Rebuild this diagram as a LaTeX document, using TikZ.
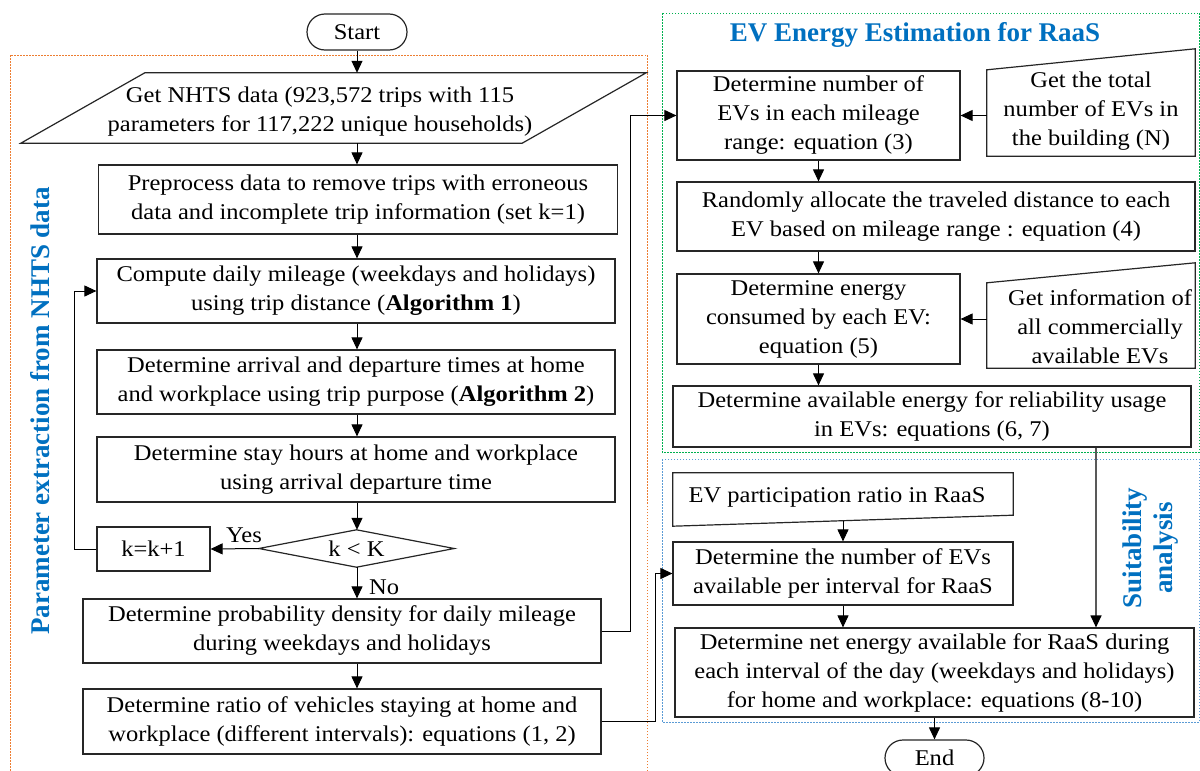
\documentclass[tikz,border=0pt]{standalone}
\usepackage{fontspec}
\setmainfont{Liberation Serif}[FakeStretch=1.09]
\newfontfamily\ttlfont{Liberation Serif}
\usetikzlibrary{arrows.meta,calc}
\definecolor{tblue}{RGB}{0,112,192}
\definecolor{forange}{RGB}{237,125,49}
\definecolor{fgreen}{RGB}{0,176,80}
\definecolor{fblue}{RGB}{91,155,213}
\newcommand\bodyfnt{\fontsize{22.5}{29}\selectfont}
\newcommand\ttlfnt{\ttlfont\bfseries\fontsize{27}{31}\selectfont}
\begin{document}
\begin{tikzpicture}[x=1pt,y=-1pt,
  box/.style={draw=black!85, line width=1.2pt, inner sep=0pt, align=center, font=\bodyfnt},
  shp/.style={inner sep=0pt},
  lbl/.style={inner sep=0pt, align=center, font=\bodyfnt},
  outl/.style={draw=black!85, line width=1.2pt},
  arr/.style={draw=black, line width=1pt, -{Triangle[length=12pt,width=11pt]}},
  garr/.style={draw=black!65, line width=1.2pt, -{Triangle[length=12pt,width=11pt,color=black]}},
  frame/.style={line width=1pt, dash pattern=on 1.5pt off 1.5pt},
  ttl/.style={inner sep=0pt, align=center, text=tblue, font=\ttlfnt}]
\useasboundingbox (0,0) rectangle (1200,771);
\fill[white] (0,0) rectangle (1200,771);

% frames
\draw[frame, draw=forange] (10,55) rectangle (647,780);
\draw[frame, draw=fgreen] (662,13) rectangle (1199,452);
\draw[frame, draw=fblue] (662,459) rectangle (1199,722);

% titles
\node[ttl] (t1) at (915,35) {EV Energy Estimation for RaaS};
\node[ttl, rotate=90] (t2) at (40,411) {Parameter extraction from NHTS data};
\node[ttl, rotate=90] (t3) at (1151,548) {Suitability\\analysis};

% left column
\node[box, rounded corners=18pt, minimum width=100pt, minimum height=36pt] (start) at (357,32) {Start};
\node[shp, minimum width=501pt, minimum height=70pt] (para) at (333.5,108) {};
\draw[outl] ([xshift=62pt]para.north west) -- ([xshift=62pt]para.north east)
  -- ([xshift=-62pt]para.south east) -- ([xshift=-62pt]para.south west) -- cycle;
\node[lbl] (paratxt) at (320,112) {Get NHTS data (923,572 trips with 115\\parameters for 117,222 unique households)};
\node[box, minimum width=519pt, minimum height=69pt] (prep) at (358,199.5) {Preprocess data to remove trips with erroneous\\data and incomplete trip information (set k=1)};
\node[box, minimum width=518pt, minimum height=64pt] (comp) at (356,291) {Compute daily mileage (weekdays and holidays)\\using trip distance (\textbf{Algorithm 1})};
\node[box, minimum width=518pt, minimum height=64pt] (arrv) at (356,382) {Determine arrival and departure times at home\\and workplace using trip purpose (\textbf{Algorithm 2})};
\node[box, minimum width=518pt, minimum height=65pt] (stay) at (356,469.5) {Determine stay hours at home and workplace\\using arrival departure time};
\node[shp, minimum width=195pt, minimum height=37pt] (dia) at (356.5,548.5) {};
\draw[outl] (dia.north) -- (dia.east) -- (dia.south) -- (dia.west) -- cycle;
\node[lbl] (diatxt) at (dia) {k < K};
\node[box, minimum width=113pt, minimum height=44pt] (kbox) at (153.5,549) {k=k+1};
\node[box, minimum width=518pt, minimum height=64pt] (prob) at (342,631) {Determine probability density for daily mileage\\during weekdays and holidays};
\node[box, minimum width=518pt, minimum height=65pt] (ratio) at (342,721.5) {Determine ratio of vehicles staying at home and\\workplace (different intervals): equations (1, 2)};
\coordinate (colx) at (357,0);

\draw[arr] (start.south) -- (start.south |- para.north);
\draw[arr] (para.south -| colx) -- (prep.north -| colx);
\draw[arr] (prep.south -| colx) -- (comp.north -| colx);
\draw[arr] (comp.south -| colx) -- (arrv.north -| colx);
\draw[arr] (arrv.south -| colx) -- (stay.north -| colx);
\draw[arr] (stay.south -| colx) -- (dia.north -| colx);
\draw[arr] (dia.west) -- (kbox.east);
\draw[arr] (kbox.west) -- ++(-22,0) |- (comp.west);
\draw[arr] (dia.south -| colx) -- (prob.north -| colx);
\draw[arr] (prob.south -| colx) -- (ratio.north -| colx);
\node[lbl, anchor=south] (yes) at (244,543) {Yes};
\node[lbl, anchor=west] (no) at (369,587) {No};

% right column: EV energy estimation
\node[box, minimum width=283pt, minimum height=89pt] (ev1) at (818.5,115.5) {Determine number of\\EVs in each mileage\\range: equation (3)};
\node[shp, minimum width=208pt, minimum height=107pt] (tot) at (1091,102.5) {};
\draw[outl] (tot.south west) -- ([yshift=-21pt]tot.north west) -- (tot.north east) -- (tot.south east) -- cycle;
\node[lbl] (tottxt) at (1091,111) {Get the total\\number of EVs in\\the building (N)};
\node[box, minimum width=518pt, minimum height=69pt] (rand) at (936,216.5) {Randomly allocate the traveled distance to each\\EV based on mileage range : equation (4)};
\node[box, minimum width=283pt, minimum height=90pt] (energy) at (818.5,319) {Determine energy\\consumed by each EV:\\equation (5)};
\node[shp, minimum width=208pt, minimum height=105pt] (info) at (1091,315.5) {};
\draw[outl] (info.south west) -- ([yshift=-20pt]info.north west) -- (info.north east) -- (info.south east) -- cycle;
\node[lbl] (infotxt) at (1100,327) {Get information of\\all commercially\\available EVs};
\node[box, minimum width=518pt, minimum height=61pt] (avail) at (932,416.5) {Determine available energy for reliability usage\\in EVs: equations (6, 7)};

\draw[arr] (ev1.east -| tot.west) -- (ev1.east);
\draw[arr] (ev1.south) -- (ev1.south |- rand.north);
\draw[arr] (rand.south -| ev1) -- (energy.north);
\draw[arr] (energy.east -| info.west) -- (energy.east);
\draw[arr] (energy.south) -- (energy.south |- avail.north);
\draw[arr] (prob.east) -- ++(29,0) |- (ev1.west);

% suitability analysis
\node[shp, minimum width=340pt, minimum height=53pt] (evp) at (843,499.5) {};
\draw[outl] (evp.north west) -- (evp.north east) -- ([yshift=11pt]evp.south east) -- (evp.south west) -- cycle;
\node[lbl] (evptxt) at (837,497) {EV participation ratio in RaaS};
\node[box, minimum width=340pt, minimum height=63pt] (dnum) at (843,573.5) {Determine the number of EVs\\available per interval for RaaS};
\node[box, minimum width=519pt, minimum height=89pt] (net) at (934.5,672.5) {Determine net energy available for RaaS during\\each interval of the day (weekdays and holidays)\\for home and workplace: equations (8-10)};
\node[box, rounded corners=18pt, minimum width=99pt, minimum height=36pt] (end) at (934.5,758) {End};
\coordinate (colr) at (1096,0);

\draw[arr] ([yshift=5.5pt]evp.south) -- (dnum.north);
\draw[arr] (dnum.south) -- (dnum.south |- net.north);
\draw[garr] (avail.south -| colr) -- (net.north -| colr);
\draw[arr] (net.south) -- (end.north);
\draw[arr] (ratio.east) -- ++(54,0) |- (dnum.west);
\end{tikzpicture}
\end{document}
